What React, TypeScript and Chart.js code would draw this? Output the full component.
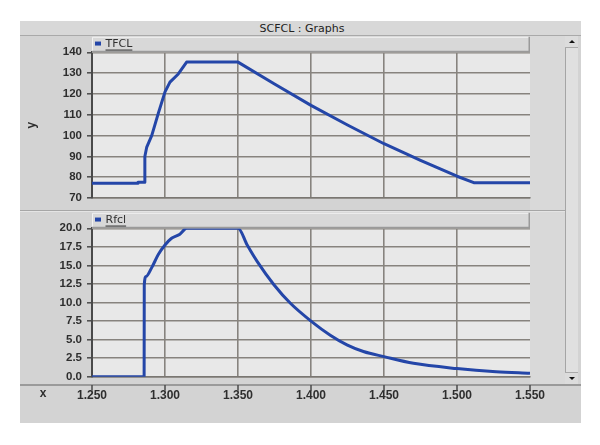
import React, { useEffect, useRef } from "react";
import { Chart, registerables } from "chart.js";
Chart.register(...registerables);

const WINDOW_TITLE = "SCFCL : Graphs";
const X_MIN = 1.25;
const X_MAX = 1.55;
const X_STEP = 0.05;

const TFCL_LABEL = "TFCL";
const TFCL_X = [1.25, 1.281, 1.2815, 1.2857, 1.2862, 1.2875, 1.2909, 1.2955, 1.3, 1.3034, 1.3091, 1.3148, 1.35, 1.375, 1.4, 1.425, 1.45, 1.475, 1.5, 1.5115, 1.55];
const TFCL_Y = [77.1, 77.1, 77.6, 77.6, 90.0, 94.5, 100.0, 110.9, 121.0, 125.7, 129.6, 135.3, 135.3, 124.8, 114.5, 105.1, 96.1, 88.1, 80.5, 77.4, 77.4];
const TOP_Y_MIN = 70;
const TOP_Y_MAX = 140;
const TOP_Y_STEP = 10;

const RFCL_LABEL = "Rfcl";
const RFCL_X = [1.25, 1.2857, 1.2858, 1.287, 1.2909, 1.2955, 1.3, 1.3045, 1.3102, 1.3148, 1.35, 1.3564, 1.3632, 1.3746, 1.3859, 1.4, 1.4132, 1.4246, 1.4359, 1.45, 1.4702, 1.5, 1.5268, 1.55];
const RFCL_Y = [0.0, 0.0, 12.4, 13.5, 14.7, 16.5, 17.75, 18.65, 19.2, 20.0, 20.0, 17.7, 15.5, 12.4, 9.9, 7.5, 5.6, 4.3, 3.4, 2.7, 1.8, 1.1, 0.67, 0.45];
const BOT_Y_MIN = 0;
const BOT_Y_MAX = 20;
const BOT_Y_STEP = 2.5;

const X_AXIS_NAME = "x";
const Y_AXIS_NAME = "y";

const LINE_COLOR = "#2446a8";
const GRID_COLOR = "#87837e";
const AXIS_COLOR = "#4a4a4a";
const TEXT_COLOR = "#2e2e2e";
const PLOT_BG = "#e8e8e8";
const FONT = "'Liberation Sans', Arial, sans-serif";

const plotBg = {
  id: "plotBg",
  beforeDraw(chart: any) {
    const { ctx, chartArea } = chart;
    ctx.save();
    ctx.fillStyle = PLOT_BG;
    ctx.fillRect(chartArea.left, chartArea.top, chartArea.right - chartArea.left, chartArea.bottom - chartArea.top);
    ctx.restore();
  },
};

const legendBar = {
  id: "legendBar",
  afterDraw(chart: any) {
    const { ctx, chartArea } = chart;
    const ds = chart.data.datasets[0];
    const h = 15.5;
    const x0 = chartArea.left;
    const x1 = chartArea.right;
    const y0 = chartArea.top - h;
    const y1 = chartArea.top;
    ctx.save();
    ctx.fillStyle = "#d8d8d8";
    ctx.fillRect(x0, y0, x1 - x0, h);
    ctx.strokeStyle = "#f2f2f2";
    ctx.lineWidth = 1;
    ctx.beginPath();
    ctx.moveTo(x0 + 0.5, y1);
    ctx.lineTo(x0 + 0.5, y0 + 0.5);
    ctx.lineTo(x1, y0 + 0.5);
    ctx.stroke();
    ctx.strokeStyle = "#9a9a9a";
    ctx.lineWidth = 1.5;
    ctx.beginPath();
    ctx.moveTo(x0, y1 - 0.75);
    ctx.lineTo(x1 - 0.75, y1 - 0.75);
    ctx.lineTo(x1 - 0.75, y0);
    ctx.stroke();
    const cy = y0 + h / 2;
    ctx.fillStyle = ds.borderColor;
    ctx.fillRect(x0 + 3, cy - 3, 6, 4);
    ctx.font = "11px 'DejaVu Sans', sans-serif";
    ctx.fillStyle = "#303030";
    ctx.textBaseline = "middle";
    ctx.textAlign = "left";
    const tx = x0 + 13.5;
    ctx.fillText(ds.label, tx, cy);
    const w = ctx.measureText(ds.label).width;
    ctx.fillRect(tx, cy + 5, w, 1);
    ctx.restore();
  },
};

const xAxisExtras = {
  id: "xAxisExtras",
  afterDraw(chart: any) {
    const { ctx, chartArea, scales } = chart;
    const sx = scales.x;
    ctx.save();
    ctx.strokeStyle = AXIS_COLOR;
    ctx.lineWidth = 1.5;
    for (const t of sx.ticks) {
      const px = sx.getPixelForValue(t.value);
      ctx.beginPath();
      ctx.moveTo(px, chartArea.bottom + 8.3);
      ctx.lineTo(px, chartArea.bottom + 14);
      ctx.stroke();
    }
    ctx.fillStyle = TEXT_COLOR;
    ctx.font = `bold 12px ${FONT}`;
    ctx.textAlign = "center";
    ctx.textBaseline = "middle";
    ctx.fillText(X_AXIS_NAME, 23, chartArea.bottom + 17);
    ctx.restore();
  },
};

const isEdge = (v: number, a: number) => Math.abs(v - a) < 1e-6;

function makePoints(xs: number[], ys: number[]) {
  return xs.map((x, i) => ({ x, y: ys[i] }));
}

function buildConfig(kind: "top" | "bottom"): any {
  const top = kind === "top";
  const xs = top ? TFCL_X : RFCL_X;
  const ys = top ? TFCL_Y : RFCL_Y;
  return {
    type: "line",
    data: {
      datasets: [
        {
          label: top ? TFCL_LABEL : RFCL_LABEL,
          data: makePoints(xs, ys),
          borderColor: LINE_COLOR,
          backgroundColor: LINE_COLOR,
          borderWidth: 3,
          pointRadius: 0,
          tension: 0,
          cubicInterpolationMode: top ? "default" : "monotone",
          fill: false,
          borderJoinStyle: "round",
        },
      ],
    },
    options: {
      responsive: false,
      maintainAspectRatio: false,
      animation: false,
      devicePixelRatio: 1,
      layout: { padding: { top: 16.3, right: 35, left: 0, bottom: 0 } },
      plugins: { legend: { display: false }, tooltip: { enabled: false } },
      scales: {
        x: {
          type: "linear",
          min: X_MIN,
          max: X_MAX,
          ticks: {
            display: !top,
            stepSize: X_STEP,
            padding: 12.1,
            color: TEXT_COLOR,
            font: { family: FONT, size: 12, weight: "bold" },
            maxRotation: 0,
            callback: (v: any) => Number(v).toFixed(3),
          },
          grid: {
            color: (c: any) => (c.tick && (isEdge(c.tick.value, X_MAX) || isEdge(c.tick.value, X_MIN)) ? "rgba(0,0,0,0)" : GRID_COLOR),
            lineWidth: 1.6,
            drawTicks: false,
          },
          border: { display: true, color: "#7a7772", width: 1.5 },
          afterFit: (s: any) => {
            s.height = top ? 7.5 : 46.3;
          },
        },
        y: {
          min: top ? TOP_Y_MIN : BOT_Y_MIN,
          max: top ? TOP_Y_MAX : BOT_Y_MAX,
          ticks: {
            stepSize: top ? TOP_Y_STEP : BOT_Y_STEP,
            padding: 5,
            color: TEXT_COLOR,
            font: { family: FONT, size: 11.5, weight: "bold" },
            callback: (v: any) => (top ? String(Math.round(Number(v))) : Number(v).toFixed(1)),
          },
          grid: {
            color: GRID_COLOR,
            lineWidth: 1.6,
            tickLength: 5,
            tickColor: AXIS_COLOR,
            tickWidth: 1.5,
          },
          border: { display: true, color: AXIS_COLOR, width: 2 },
          title: {
            display: top,
            text: Y_AXIS_NAME,
            color: TEXT_COLOR,
            font: { family: FONT, size: 12, weight: "bold" },
            padding: { top: 4.3, bottom: 0 },
          },
          afterFit: (s: any) => {
            s.width = 72;
          },
        },
      },
    },
    plugins: top ? [plotBg, legendBar] : [plotBg, legendBar, xAxisExtras],
  };
}

function ChartCanvas({ kind, left, top, width, height }: { kind: "top" | "bottom"; left: number; top: number; width: number; height: number }) {
  const ref = useRef<HTMLCanvasElement | null>(null);
  useEffect(() => {
    if (!ref.current) return;
    const chart = new Chart(ref.current, buildConfig(kind));
    return () => chart.destroy();
  }, [kind]);
  return (
    <canvas
      ref={ref}
      width={width}
      height={height}
      style={{ position: "absolute", left, top, width, height, display: "block" }}
    />
  );
}

function Arrow({ up, top }: { up: boolean; top: number }) {
  return (
    <div
      style={{
        position: "absolute",
        left: 565,
        top,
        width: 13,
        height: 12,
        background: "#dcdcdc",
        borderTop: up ? "none" : "1px solid #aaaaaa",
        borderBottom: up ? "1px solid #aaaaaa" : "none",
        boxSizing: "border-box",
      }}
    >
      <div
        style={{
          position: "absolute",
          left: 3.5,
          top: 4,
          width: 0,
          height: 0,
          borderLeft: "3px solid transparent",
          borderRight: "3px solid transparent",
          borderBottom: up ? "3px solid #111" : "none",
          borderTop: up ? "none" : "3px solid #111",
        }}
      />
    </div>
  );
}

export default function App() {
  return (
    <div style={{ position: "absolute", left: 0, top: 0, width: 600, height: 445, background: "#ffffff", overflow: "hidden" }}>
      <div style={{ position: "absolute", left: 20, top: 21, width: 561, height: 402, background: "#d3d3d3" }} />
      <div
        style={{
          position: "absolute",
          left: 20,
          top: 21,
          width: 561,
          height: 15,
          background: "#d8d8d8",
          borderBottom: "1px solid #a9a9a9",
          boxSizing: "border-box",
          textAlign: "center",
          font: "11px 'DejaVu Sans', sans-serif",
          lineHeight: "15px",
          color: "#222",
          paddingLeft: 3,
        }}
      >
        {WINDOW_TITLE}
      </div>
      <div style={{ position: "absolute", left: 530, top: 36, width: 35, height: 348, background: "#d9d9d9" }} />
      <div style={{ position: "absolute", left: 20, top: 210, width: 545, height: 1, background: "#a6a6a6" }} />
      <div style={{ position: "absolute", left: 20, top: 211, width: 545, height: 1, background: "#e4e4e4" }} />
      <div style={{ position: "absolute", left: 20, top: 384, width: 561, height: 1.5, background: "#9a9a9a" }} />
      <div style={{ position: "absolute", left: 565, top: 36, width: 13, height: 348, background: "#e0e0e0", borderLeft: "1px solid #a5a5a5", boxSizing: "border-box" }} />
      <Arrow up={true} top={36} />
      <Arrow up={false} top={372} />
      <ChartCanvas kind="top" left={20} top={36} width={545} height={174} />
      <ChartCanvas kind="bottom" left={20} top={212} width={545} height={211} />
    </div>
  );
}
